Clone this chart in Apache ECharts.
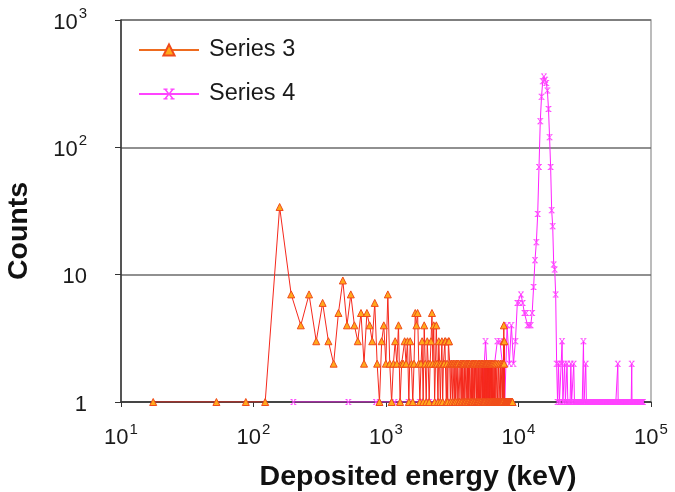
<!DOCTYPE html>
<html>
<head>
<meta charset="utf-8">
<script src="https://cdn.jsdelivr.net/npm/echarts@6/dist/echarts.min.js"></script>
<style>
  html, body { margin: 0; padding: 0; background: #ffffff; }
  #chart { width: 675px; height: 492px; }
</style>
</head>
<body>
<div id="chart"></div>
<script>
// Series 3: histogram, 35 keV bins starting at 17.5 keV
const BIN3_START = 17.5;
const BIN3_WIDTH = 35;
const series3Counts = [
    1, 1, 1, 1, 34, 7, 4, 7, 3, 6,
    3, 2, 5, 9, 4, 7, 4, 3, 5, 2,
    5, 4, 3, 6, 2, 1, 3, 4, 2, 7,
    2, 1, 2, 3, 2, 4, 1, 2, 2, 3,
    2, 3, 1, 3, 2, 1, 2, 5, 4, 5,
    2, 1, 2, 3, 1, 4, 2, 1, 3, 2,
    1, 2, 3, 5, 2, 4, 1, 2, 4, 2,
    1, 3, 2, 1, 2, 3, 1, 2, 2, 3,
    3, 1, 2, 1, 3, 3, 2, 1, 2, 2,
    1, 2, 2, 1, 2, 1, 2, 2, 1, 2,
    2, 1, 1, 2, 2, 1, 2, 1, 2, 2,
    1, 2, 1, 1, 2, 2, 1, 2, 1, 2,
    1, 2, 2, 1, 1, 2, 1, 2, 1, 2,
    2, 1, 2, 1, 1, 2, 2, 1, 2, 1,
    1, 2, 1, 2, 2, 1, 2, 1, 1, 2,
    2, 1, 2, 1, 2, 1, 1, 2, 1, 2,
    1, 2, 2, 1, 2, 1, 2, 1, 1, 2,
    1, 2, 1, 2, 1, 1, 2, 1, 2, 1,
    2, 1, 1, 2, 1, 1, 1, 2, 1, 1,
    1, 2, 1, 1, 1, 1, 2, 1, 1, 1,
    1, 1, 2, 1, 1, 1, 1, 1, 2, 1,
    1, 1, 1, 1, 2, 1, 1, 1, 2, 1,
    3, 4, 2, 3, 1, 1, 1, 1, 1, 1,
    1, 1, 1, 1, 1, 1, 1, 1, 1, 1,
    1, 1, 1, 1, 1, 1, 1, 1, 1, 1,
    1, 1, 1, 1, 1, 1, 1, 1
];

// Series 4: histogram, 320 keV bins starting at 200 keV
const BIN4_START = 200;
const BIN4_WIDTH = 320;
const series4Counts = [
    1, 1, 1, 1, 1, 1, 1, 1, 1, 1,
    1, 1, 1, 1, 1, 1, 1, 3, 1, 2,
    2, 3, 3, 2, 1, 4, 2, 4, 2, 3,
    6, 6, 7, 6, 5, 5, 4, 4, 4, 5,
    8, 13, 18, 30, 70, 160, 250, 330, 360, 340,
    320, 280, 200, 120, 70, 32, 24, 12, 11, 7,
    2, 1, 2, 1, 1, 2, 3, 1, 1, 2,
    1, 1, 2, 1, 1, 1, 1, 2, 1, 1,
    1, 2, 1, 1, 1, 1, 1, 1, 1, 1,
    1, 1, 1, 1, 1, 1, 3, 1, 1, 1,
    2, 1, 1, 1, 1, 1, 1, 1, 1, 1,
    1, 1, 1, 1, 1, 1, 1, 1, 1, 1,
    1, 1, 1, 1, 1, 1, 1, 1, 1, 1,
    1, 1, 1, 1, 1, 1, 1, 1, 1, 1,
    1, 1, 1, 1, 1, 1, 1, 1, 1, 1,
    1, 1, 1, 1, 1, 1, 1, 1, 1, 1,
    1, 1, 1, 1, 1, 1, 1, 1, 1, 1,
    1, 1, 1, 1, 1, 2, 1, 1, 1, 1,
    1, 1, 1, 1, 1, 1, 1, 1, 1, 1,
    1, 1, 1, 1, 1, 1, 1, 1, 1, 1,
    1, 1, 1, 1, 1, 1, 1, 1, 1, 1,
    1, 1, 1, 1, 1, 1, 1, 1, 1, 1,
    1, 1, 1, 2, 1, 1, 1, 1, 1, 1,
    1, 1, 1, 1, 1, 1, 1, 1, 1, 1,
    1, 1, 1, 1, 1, 1, 1, 1, 1, 1,
    1, 1, 1, 1, 1, 1, 1, 1, 1, 1,
    1, 1, 1, 1, 1, 1, 1, 1, 1, 1,
    1
];

// tick labels: base + superscript
const xTicks = [10, 100, 1000, 10000, 100000];
const xTickBase = ['10', '10', '10', '10', '10'];
const xTickSup = ['1', '2', '3', '4', '5'];
const yTicks = [1, 10, 100, 1000];
const yTickBase = ['1', '10', '10', '10'];
const yTickSup = ['', '', '2', '3'];

const FONT = 'Liberation Sans, Arial, sans-serif';

function toPoints(start, width, counts) {
    return counts.map(function(c, i) { return [start + i * width, c]; });
}

function tickLabel(ticks, base, sup) {
    return function(value) {
        const idx = ticks.findIndex(function(t) { return Math.abs(t - value) / t < 1e-6; });
        if (idx < 0) return '';
        return sup[idx] ? '{b|' + base[idx] + '}{s|' + sup[idx] + '}' : '{b|' + base[idx] + '}';
    };
}

const labelRich = {
    b: { fontSize: 22, fontFamily: FONT, color: '#1a1a1a', lineHeight: 27, verticalAlign: 'bottom' },
    s: { fontSize: 15, fontFamily: FONT, color: '#1a1a1a', lineHeight: 27, verticalAlign: 'top', padding: [0, 0, 6, 1] }
};

// asterisk-like marker used by Excel for series 4
const starSymbol = 'path://M0,0H3V1H2.2L4,3.2L5.8,1H5V0H8V1H7.2L4.8,4L7.2,7H8V8H5V7H5.8L4,4.8L2.2,7H3V8H0V7H0.8L3.2,4L0.8,1H0Z';

const chart = echarts.init(document.getElementById('chart'));

chart.setOption({
    backgroundColor: '#ffffff',
    animation: false,
    grid: {
        left: 121,
        right: 24,
        top: 20,
        bottom: 90,
        containLabel: false,
        outerBoundsMode: 'none',
        show: true,
        borderColor: '#a6a6a6',
        borderWidth: 1.5
    },
    legend: {
        orient: 'vertical',
        left: 138,
        top: 38,
        padding: 0,
        itemWidth: 60,
        itemHeight: 14,
        itemGap: 20,
        textStyle: { fontSize: 23.5, fontFamily: FONT, color: '#1a1a1a', padding: [0, 0, 0, 5] },
        data: [
            { name: 'Series 3', lineStyle: { color: '#ee6b1f', width: 2 } },
            { name: 'Series 4', lineStyle: { color: '#ff44ff', width: 2 } }
        ]
    },
    xAxis: {
        type: 'log',
        logBase: 10,
        min: 10,
        max: 100000,
        name: 'Deposited energy (keV)',
        nameLocation: 'middle',
        nameGap: 61,
        nameMoveOverlap: false,
        nameTextStyle: { fontSize: 28.5, fontWeight: 'bold', fontFamily: FONT, color: '#111111', padding: [0, 0, 0, 64] },
        axisLine: { lineStyle: { color: '#333333', width: 1.5 } },
        axisTick: { show: true, length: 5, lineStyle: { color: '#333333' } },
        minorTick: { show: false },
        splitLine: { show: false },
        axisLabel: {
            margin: 20,
            formatter: tickLabel(xTicks, xTickBase, xTickSup),
            rich: labelRich
        }
    },
    yAxis: {
        type: 'log',
        logBase: 10,
        min: 1,
        max: 1000,
        name: 'Counts',
        nameLocation: 'middle',
        nameGap: 87,
        nameMoveOverlap: false,
        nameRotate: 90,
        nameTextStyle: { fontSize: 28.5, fontWeight: 'bold', fontFamily: FONT, color: '#111111', padding: [0, 40, 0, 0] },
        axisLine: { show: true, lineStyle: { color: '#333333', width: 1.5 } },
        axisTick: { show: true, length: 6, lineStyle: { color: '#333333' } },
        splitLine: { show: true, lineStyle: { color: '#6b6b6b', width: 1.5 } },
        axisLabel: {
            margin: 34,
            formatter: tickLabel(yTicks, yTickBase, yTickSup),
            rich: labelRich
        }
    },
    series: [
        {
            name: 'Series 3',
            type: 'line',
            z: 3,
            data: toPoints(BIN3_START, BIN3_WIDTH, series3Counts),
            symbol: 'triangle',
            symbolSize: 7,
            showSymbol: true,
            showAllSymbol: true,
            lineStyle: { color: '#f5281c', width: 1 },
            itemStyle: { color: '#ffa91c', borderColor: '#f04a1a', borderWidth: 1 }
        },
        {
            name: 'Series 4',
            type: 'line',
            z: 2,
            data: toPoints(BIN4_START, BIN4_WIDTH, series4Counts),
            symbol: starSymbol,
            symbolSize: 6,
            showSymbol: true,
            showAllSymbol: true,
            lineStyle: { color: '#ff22ff', width: 1 },
            itemStyle: { color: '#ff44ff', borderWidth: 0 }
        }
    ]
});
</script>
</body>
</html>
